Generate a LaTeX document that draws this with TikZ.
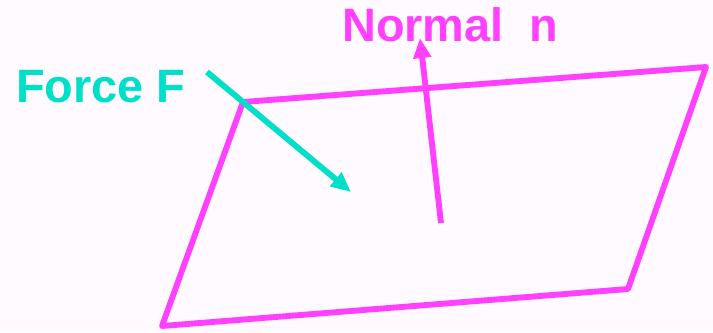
\documentclass[tikz,border=0pt]{standalone}
\usepackage{fontspec}
\setmainfont{Liberation Sans}
\usetikzlibrary{arrows.meta}
\definecolor{planemag}{HTML}{FF40FF}
\definecolor{forceteal}{HTML}{00E0C8}
\definecolor{paper}{HTML}{FFFAFF}

\begin{document}
\begin{tikzpicture}[
    x=0.03cm, y=-0.03cm,
    plane/.style={draw=planemag, line width=5pt, line join=round},
    vec/.style={-{Triangle[length=20*0.03cm, width=17*0.03cm]}, line width=5pt},
    lbl/.style={font=\bfseries\fontsize{40}{48}\selectfont, anchor=base west, inner sep=0pt}
  ]
    \fill[paper] (0,0) rectangle (713,332);
    \useasboundingbox (0,0) rectangle (713,332);
    % plane
    \coordinate (tl) at (243,102);
    \coordinate (tr) at (706,67);
    \coordinate (br) at (628,289);
    \coordinate (bl) at (162,326);
    \draw[plane] (tl) -- (tr) -- (br) -- (bl) -- cycle;
    % labels
    \node[lbl, text=planemag] (normtxt) at (342,41) {Normal\ \ n};
    \node[lbl, text=forceteal] (forcetxt) at (16,102) {Force F};
    % vectors
    \coordinate (nbase) at (441,223);
    \coordinate (ntip) at (420,38);
    \coordinate (fbase) at (207,72);
    \coordinate (ftip) at (351,192);
    \draw[vec, planemag] (nbase) -- (ntip);
    \draw[vec, forceteal] (fbase) -- (ftip);
  \end{tikzpicture}
\end{document}
